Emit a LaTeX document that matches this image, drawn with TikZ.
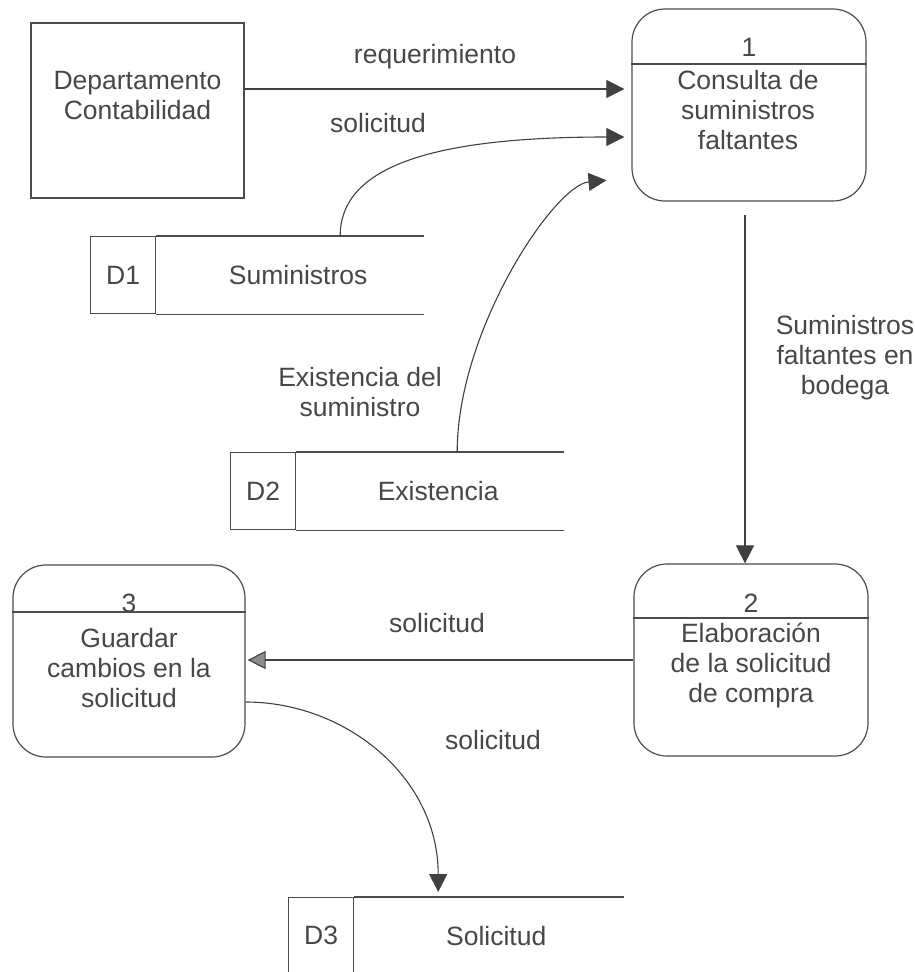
\documentclass[tikz,border=0pt]{standalone}
\usepackage{fontspec}
\setmainfont{Liberation Sans}
\usetikzlibrary{arrows.meta}

\begin{document}
\begin{tikzpicture}[x=1pt,y=-1pt,
	every node/.style={font=\fontsize{26.5}{30}\selectfont, text=black!72},
	line/.style={draw=black!70, line width=1.2pt},
	flow/.style={draw=black!75, line width=1.1pt, -{Triangle[length=18pt,width=18pt]}},
	entity/.style={line, minimum width=213pt, minimum height=175pt},
	process/.style={line, rounded corners=33pt, minimum width=234pt, minimum height=192pt},
	idbox/.style={line, minimum width=65pt, minimum height=77pt},
	lbl/.style={align=center}]

	\useasboundingbox (0,0) rectangle (915,972);

	% External entity
	\node[entity] (dept) at (137.5,110.5) {};
	\node[lbl] (deptt) at (137.5,96) {Departamento\\Contabilidad};

	% Processes
	\node[process] (p1) at (749,105) {};
	\node (p1n) at (749,47) {1};
	\node[lbl] (p1t) at (748,110) {Consulta de\\suministros\\faltantes};
	\draw[line] (p1.west |- 0,64) -- (p1.east |- 0,64);

	\node[process] (p2) at (751,660) {};
	\node (p2n) at (751,603) {2};
	\node[lbl] (p2t) at (751,665) {Elaboración\\de la solicitud\\de compra};
	\draw[line] (p2.west |- 0,618) -- (p2.east |- 0,618);

	\node[process, minimum width=232pt] (p3) at (129,661) {};
	\node (p3n) at (129,603) {3};
	\node[lbl] (p3t) at (129,668) {Guardar\\cambios en la\\solicitud};
	\draw[line] (p3.west |- 0,612) -- (p3.east |- 0,612);

	% Data stores
	\node[idbox, anchor=north west] (d1) at (90,236) {D1};
	\draw[line] (d1.north east) -- ++(268,0) (d1.south east) -- ++(268,0);
	\node (n1) at ([xshift=142pt]d1.east) {Suministros};

	\node[idbox, anchor=north west] (d2) at (230,452) {D2};
	\draw[line] (d2.north east) -- ++(268,0) (d2.south east) -- ++(268,0);
	\node (n2) at ([xshift=142pt]d2.east) {Existencia};

	\node[idbox, anchor=north west, minimum height=76pt] (d3) at (288,897) {D3};
	\draw[line] (d3.north east) -- ++(270,0) (d3.south east) -- ++(270,0);
	\node (n3) at ([xshift=142pt]d3.east) {Solicitud};

	% Flows
	\draw[flow, shorten >=7pt] ([yshift=21.5pt]dept.east) -- ([yshift=21.5pt]dept.east -| p1.west);
	\node (f1) at (435,57) {requerimiento};

	\draw[flow, shorten >=7pt] ([xshift=184pt]d1.north east) .. controls +(0,-71) and +(-195,0) .. ([yshift=-32pt]p1.west);
	\node (f2) at (378,123) {solicitud};

	\draw[flow, shorten >=25pt] ([xshift=161pt]d2.north east) .. controls +(0,-122) and +(-77,7) .. ([yshift=-73pt]p1.west);
	\node[lbl] (f3) at (360,392) {Existencia del\\suministro};

	\draw[flow, shorten <=13pt] ([xshift=-4pt]p1.south) -- ([xshift=-4pt]p1.south |- p2.north);
	\node[lbl] (f4) at (845,358) {Suministros\\faltantes en\\bodega};

	\draw[flow, -{Triangle[length=18pt,width=18pt,fill=black!45]}, shorten >=2pt] (p2.west) -- (p2.west -| p3.east);
	\node (f5) at (437,623) {solicitud};

	\draw[flow, shorten >=5pt] ([yshift=-41pt]p3.east) .. controls +(100,0) and +(0,-120) .. ([xshift=84pt]d3.north east);
	\node (f6) at (493,740) {solicitud};

\end{tikzpicture}
\end{document}
